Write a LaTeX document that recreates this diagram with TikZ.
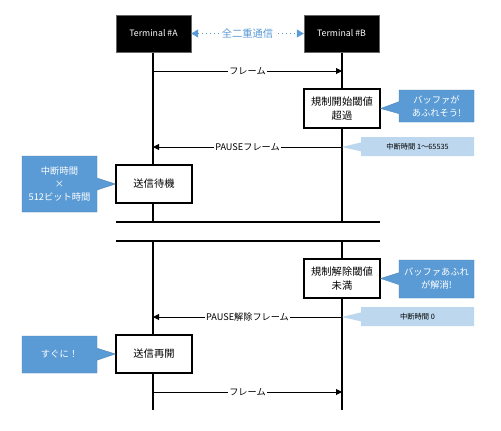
\documentclass[tikz,border=0pt]{standalone}
\usepackage{fontspec}
\setmainfont{Noto Sans CJK JP}
\usetikzlibrary{arrows.meta,shapes.callouts}
\definecolor{calloutblue}{HTML}{5B9BD5}
\definecolor{calloutlight}{HTML}{BDD7EE}
\definecolor{duplexblue}{HTML}{5B9BD5}
\tikzset{
  term/.style={draw=black!60, fill=black, text=white, minimum width=75bp, minimum height=37bp, inner sep=0pt, font=\fontsize{8.8}{10}\selectfont},
  statebox/.style={draw=black, line width=1.1bp, fill=white, minimum width=76bp, minimum height=39bp, inner sep=0pt, align=center, font=\fontsize{10.3}{14}\selectfont},
  lifeline/.style={line width=1.1bp, black},
  msg/.style={line width=0.9bp, -{Triangle[length=6bp,width=6bp]}},
  msglabel/.style={fill=white, inner sep=1bp, font=\fontsize{9.2}{10}\selectfont},
  darkcallout/.style={rectangle callout, fill=calloutblue, text=white, draw=calloutblue!80!black, line width=0.3bp, inner sep=0pt, minimum width=75bp, align=center, callout pointer width=12bp, font=\fontsize{9.3}{13}\selectfont},
  lightcallout/.style={rectangle callout, fill=calloutlight, text=black, inner sep=0pt, minimum width=113bp, minimum height=19bp, callout pointer width=9bp, font=\fontsize{7.3}{8}\selectfont},
  duplex/.style={duplexblue, line width=1bp, dash pattern=on 1bp off 3bp, {Triangle[length=7bp,width=8bp]}-{Triangle[length=7bp,width=8bp]}},
}
\begin{document}
\begin{tikzpicture}[x=1bp,y=-1bp]
\useasboundingbox (0,0) rectangle (501,430);
% lifelines
\coordinate (Atop) at (153,52);
\coordinate (Btop) at (342,52);
\coordinate (Abrk1) at (153,222);
\coordinate (Bbrk1) at (342,222);
\coordinate (Abrk2) at (153,241);
\coordinate (Bbrk2) at (342,241);
\coordinate (Abot) at (153,410);
\coordinate (Bbot) at (342,410);
\coordinate (BrkL1) at (116,222);
\coordinate (BrkR1) at (380,222);
\coordinate (BrkL2) at (116,241);
\coordinate (BrkR2) at (380,241);
\draw[lifeline] (Atop) -- (Abrk1);
\draw[lifeline] (Btop) -- (Bbrk1);
\draw[lifeline] (Abrk2) -- (Abot);
\draw[lifeline] (Bbrk2) -- (Bbot);
\draw[lifeline] (BrkL1) -- (BrkR1);
\draw[lifeline] (BrkL2) -- (BrkR2);
% terminals
\node[term] (TA) at (153.5,33.5) {Terminal \#A};
\node[term] (TB) at (341.5,33.5) {Terminal \#B};
\draw[duplex] (TA.east) -- node[fill=white, inner sep=2bp, text=duplexblue, font=\fontsize{10.3}{12}\selectfont] (dlab) {全二重通信} (TB.west);
% message anchors
\coordinate (m1a) at (153,71);
\coordinate (m1b) at (342,71);
\coordinate (m2a) at (153,147);
\coordinate (m2b) at (342,147);
\coordinate (m3a) at (153,317);
\coordinate (m3b) at (342,317);
\coordinate (m4a) at (153,392);
\coordinate (m4b) at (342,392);
\draw[msg] (m1a) -- node[msglabel] (l1) {フレーム} (m1b);
\draw[msg] (m2b) -- node[msglabel] (l2) {PAUSEフレーム} (m2a);
\draw[msg] (m3b) -- node[msglabel] (l3) {PAUSE解除フレーム} (m3a);
\draw[msg] (m4a) -- node[msglabel] (l4) {フレーム} (m4b);
% state boxes
\node[statebox] (S1) at (342,108.5) {規制開始閾値\\超過};
\node[statebox, minimum height=38bp] (S2) at (154,184) {送信待機};
\node[statebox] (S3) at (342,278.5) {規制解除閾値\\未満};
\node[statebox, minimum height=38bp] (S4) at (154,354) {送信再開};
% callouts
\node[darkcallout, minimum height=32bp, callout absolute pointer={(S1.east)}] (C1) at (436.5,106) {バッファが\\あふれそう!};
\node[lightcallout, callout absolute pointer={(m2b)}] (L1) at (417.5,146.5) {中断時間 1～65535};
\node[darkcallout, minimum height=56bp, callout absolute pointer={(S2.west)}] (C2) at (59.5,184) {中断時間\\×\\512ビット時間};
\node[darkcallout, minimum height=38bp, callout absolute pointer={(S3.east)}] (C3) at (436.5,279) {バッファあふれ\\が解消!};
\node[lightcallout, callout absolute pointer={(m3b)}] (L2) at (417.5,316.5) {中断時間 0};
\node[darkcallout, minimum height=37bp, callout absolute pointer={(S4.west)}] (C4) at (59.5,354.5) {すぐに！};
\end{tikzpicture}
\end{document}
